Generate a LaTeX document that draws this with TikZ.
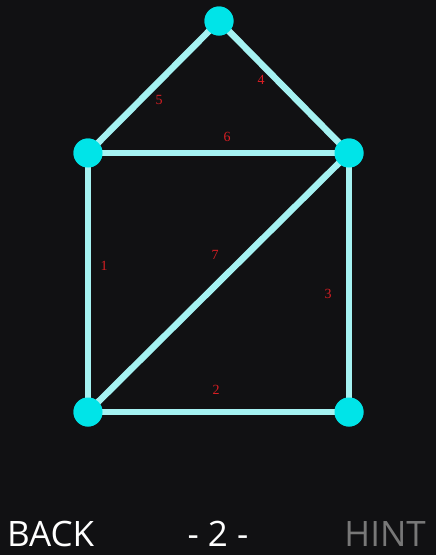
\documentclass[tikz,border=0pt]{standalone}
\usepackage{fontspec}
\newfontfamily\uifont{Open Sans}
\setmainfont{Liberation Serif}
\definecolor{bg}{RGB}{17,17,19}
\definecolor{edgecol}{RGB}{165,242,242}
\definecolor{nodecol}{RGB}{0,228,232}
\definecolor{lblred}{RGB}{215,30,35}
\definecolor{hintgray}{RGB}{120,120,120}
\tikzset{
  vert/.style={circle, fill=nodecol, minimum size=29pt, inner sep=0pt},
  link/.style={edgecol, line width=6.5pt},
  num/.style={text=lblred, font=\fontsize{14}{14}\selectfont},
  menu/.style={font=\uifont\fontsize{35}{35}\selectfont, anchor=base west, inner sep=0pt}
}
\begin{document}
\begin{tikzpicture}[x=1pt,y=-1pt]
\fill[bg] (0,0) rectangle (436,555);
\useasboundingbox (0,0) rectangle (436,555);
% vertices
\node[vert] (T) at (219,21) {};
\node[vert] (L) at (88,153) {};
\node[vert] (R) at (349,153) {};
\node[vert] (BL) at (88,412) {};
\node[vert] (BR) at (349,412) {};
% edges
\draw[link] (L.center) -- (BL.center);
\draw[link] (BL.center) -- (BR.center);
\draw[link] (BR.center) -- (R.center);
\draw[link] (R.center) -- (T.center);
\draw[link] (T.center) -- (L.center);
\draw[link] (L.center) -- (R.center);
\draw[link] (BL.center) -- (R.center);
% redraw vertices on top
\node[vert] at (T) {};
\node[vert] at (L) {};
\node[vert] at (R) {};
\node[vert] at (BL) {};
\node[vert] at (BR) {};
% labels
\node[num] (n1) at (104,266) {1};
\node[num] (n2) at (216,390) {2};
\node[num] (n3) at (328,294) {3};
\node[num] (n4) at (261,80) {4};
\node[num] (n5) at (159,100) {5};
\node[num] (n6) at (227,137) {6};
\node[num] (n7) at (215,255) {7};
% bottom menu
\node[menu, text=white] (back) at (7,546) {BACK};
\node[menu, text=white, anchor=base] (lvl) at (218,546) {- 2 -};
\node[menu, text=hintgray, anchor=base east] (hint) at (426,546) {HINT};
\end{tikzpicture}
\end{document}
